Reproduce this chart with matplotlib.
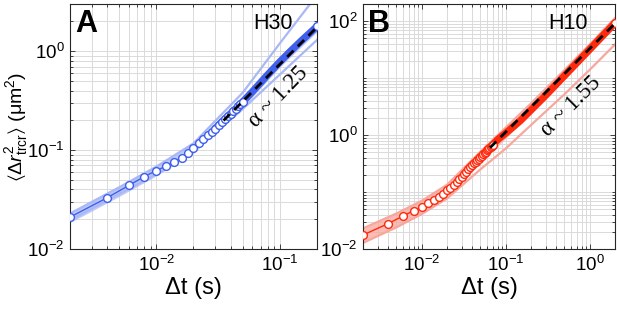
import numpy as np
import matplotlib
matplotlib.use('Agg')
import matplotlib.pyplot as plt
from matplotlib.ticker import LogLocator, NullFormatter, LogFormatterMathtext

plt.rcParams['font.family'] = ['Liberation Sans', 'DejaVu Sans']
plt.rcParams['mathtext.fontset'] = 'custom'
plt.rcParams['mathtext.rm'] = 'Liberation Sans'
plt.rcParams['mathtext.it'] = 'Liberation Sans:italic'
plt.rcParams['mathtext.bf'] = 'Liberation Sans:bold'
plt.rcParams['mathtext.fallback'] = 'stixsans'

# ---------------- Panel A (H30) ----------------
tA = [0.002, 0.004, 0.006, 0.008, 0.010, 0.012, 0.014, 0.016, 0.018, 0.020,
      0.022, 0.024, 0.026, 0.028, 0.030, 0.032, 0.034, 0.036, 0.038, 0.040,
      0.042, 0.044, 0.046, 0.048, 0.050, 0.060, 0.080, 0.100, 0.120, 0.150, 0.200]
msdA = [0.021, 0.033, 0.044, 0.054, 0.062, 0.069, 0.076, 0.084, 0.093, 0.105,
        0.117, 0.129, 0.141, 0.153, 0.165, 0.178, 0.192, 0.206, 0.220, 0.234,
        0.248, 0.262, 0.277, 0.292, 0.307, 0.39, 0.58, 0.78, 0.98, 1.28, 1.78]
bandA_t = [0.002, 0.005, 0.01, 0.02, 0.05, 0.1, 0.2]
innerA_lo = [0.0185, 0.034, 0.055, 0.093, 0.27, 0.69, 1.57]
innerA_hi = [0.0237, 0.0435, 0.070, 0.119, 0.345, 0.88, 2.0]
outerA_lo = [0.0195, 0.036, 0.057, 0.096, 0.26, 0.58, 1.3]
outerA_hi = [0.0228, 0.042, 0.068, 0.117, 0.38, 1.2, 3.7]
fitA_t = [0.035, 0.2]
fitA_y = [0.199, 1.75]

# ---------------- Panel B (H10) ----------------
tB = [0.002, 0.004, 0.006, 0.008, 0.010, 0.012, 0.014, 0.016, 0.018, 0.020,
      0.022, 0.024, 0.026, 0.028, 0.030, 0.032, 0.034, 0.036, 0.038, 0.040,
      0.042, 0.044, 0.046, 0.048, 0.050, 0.052, 0.054, 0.056, 0.058, 0.060,
      0.062, 0.064, 0.066, 0.068, 0.070, 0.080, 0.100, 0.150, 0.200, 0.300,
      0.500, 0.700, 1.000, 1.500, 2.000]
msdB = [0.0176, 0.028, 0.038, 0.047, 0.055, 0.063, 0.072, 0.082, 0.094, 0.107,
        0.120, 0.134, 0.149, 0.167, 0.186, 0.206, 0.227, 0.250, 0.272, 0.295,
        0.317, 0.340, 0.363, 0.387, 0.410, 0.435, 0.460, 0.486, 0.512, 0.538,
        0.565, 0.592, 0.620, 0.648, 0.677, 0.83, 1.08, 1.80, 2.75, 5.0,
        11.0, 18.5, 32.0, 60.0, 93.0]
bandB_t = [0.002, 0.005, 0.01, 0.02, 0.05, 0.1, 0.2, 0.5, 1.0, 2.0]
innerB_lo = [0.0128, 0.025, 0.043, 0.084, 0.33, 0.88, 2.4, 9.4, 27, 78]
innerB_hi = [0.023, 0.042, 0.070, 0.134, 0.50, 1.33, 3.5, 13.5, 38, 110]
outerB_lo = [0.0128, 0.024, 0.041, 0.077, 0.25, 0.58, 1.5, 5.2, 14, 39]
outerB_hi = [0.023, 0.042, 0.070, 0.134, 0.51, 1.35, 3.6, 13.8, 39, 113]
fitB_t = [0.065, 2.0]
fitB_y = [0.60, 91.0]

W, H = 617, 309
fig = plt.figure(figsize=(W / 100, H / 100), dpi=100)


def make_ax(x0, x1, y0, y1):
    return fig.add_axes([x0 / W, 1 - y1 / H, (x1 - x0) / W, (y1 - y0) / H])


def style_ax(ax, xlim, ylim, xmaj, ymaj):
    ax.set_xscale('log')
    ax.set_yscale('log')
    ax.set_xlim(*xlim)
    ax.set_ylim(*ylim)
    ax.xaxis.set_major_locator(plt.FixedLocator(xmaj))
    ax.yaxis.set_major_locator(plt.FixedLocator(ymaj))
    ax.xaxis.set_minor_locator(LogLocator(base=10, subs=np.arange(1, 10), numticks=20))
    ax.yaxis.set_minor_locator(LogLocator(base=10, subs=np.arange(1, 10), numticks=20))
    ax.xaxis.set_major_formatter(LogFormatterMathtext())
    ax.yaxis.set_major_formatter(LogFormatterMathtext())
    ax.xaxis.set_minor_formatter(NullFormatter())
    ax.yaxis.set_minor_formatter(NullFormatter())
    ax.grid(True, which='both', color='#dadada', lw=0.7)
    ax.set_axisbelow(True)
    ax.tick_params(which='both', direction='in', top=True, right=True,
                   color='#262626', labelsize=13.5, width=0.6)
    ax.tick_params(which='major', length=3.5, pad=4)
    ax.tick_params(which='minor', length=2)
    for s in ax.spines.values():
        s.set_color('#262626')
        s.set_linewidth(0.8)
    ax.set_xlabel('Δt (s)', fontsize=17, labelpad=2)


def draw(ax, t, msd, bt, ilo, ihi, olo, ohi, ft, fy, col, light, tmark, tthick):
    t = np.asarray(t)
    msd = np.asarray(msd)
    ax.fill_between(bt, ilo, ihi, color=light, lw=0, alpha=0.75, zorder=2)
    ax.plot(bt, olo, color=light, lw=1.6, zorder=2)
    ax.plot(bt, ohi, color=light, lw=1.6, zorder=2)
    thick = t >= tthick
    ax.plot(t[thick], msd[thick], color=col, lw=5.2, solid_capstyle='round', zorder=3)
    ax.plot(t, msd, color=col, lw=1.0, zorder=3)
    mk = (t <= tmark) | (np.arange(len(t)) == len(t) - 1)
    ax.plot(t[mk], msd[mk], ls='none', marker='o', ms=5.6, mfc='white',
            mec=col, mew=1.0, zorder=4)
    ax.plot(ft, fy, color='black', lw=2.0, dashes=(3.2, 2.2), zorder=5)


# Panel A
axA = make_ax(70, 317, 4, 249)
style_ax(axA, (0.002, 0.2), (0.01, 3.0), [0.01, 0.1], [0.01, 0.1, 1.0])
draw(axA, tA, msdA, bandA_t, innerA_lo, innerA_hi, outerA_lo, outerA_hi,
     fitA_t, fitA_y, '#3f5fec', '#a9b8f6', 0.050, 0.030)
axA.set_ylabel(r'$\langle\Delta r^2_{\rm trcr}\rangle$ (μm$^2$)', fontsize=14)
axA.yaxis.set_label_coords(-0.163, 0.5)
axA.text(0.02, 0.98, 'A', transform=axA.transAxes, ha='left', va='top',
         fontsize=22, fontweight='bold', zorder=6)
axA.text(0.90, 0.965, 'H30', transform=axA.transAxes, ha='right', va='top',
         fontsize=15.5, zorder=6)
axA.text(0.842, 0.62, 'α ~ 1.25', transform=axA.transAxes, ha='center', va='center',
         rotation=46, fontsize=16.5, family=['Liberation Serif', 'DejaVu Serif'], zorder=6)

# Panel B
axB = make_ax(363, 615, 4, 249)
style_ax(axB, (0.002, 2.0), (0.01, 200), [0.01, 0.1, 1.0], [0.01, 1.0, 100.0])
draw(axB, tB, msdB, bandB_t, innerB_lo, innerB_hi, outerB_lo, outerB_hi,
     fitB_t, fitB_y, '#ff2a0e', '#f7a79c', 0.070, 0.040)
axB.text(0.02, 0.98, 'B', transform=axB.transAxes, ha='left', va='top',
         fontsize=22, fontweight='bold', zorder=6)
axB.text(0.89, 0.965, 'H10', transform=axB.transAxes, ha='right', va='top',
         fontsize=15.5, zorder=6)
axB.text(0.825, 0.584, 'α ~ 1.55', transform=axB.transAxes, ha='center', va='center',
         rotation=45, fontsize=16.5, family=['Liberation Serif', 'DejaVu Serif'], zorder=6)

fig.savefig('out.png', dpi=100)
